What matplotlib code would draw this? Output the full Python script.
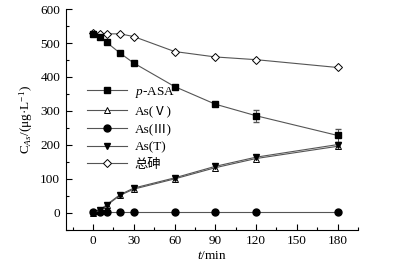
import matplotlib
matplotlib.use("Agg")
import matplotlib.pyplot as plt
from matplotlib.ticker import MultipleLocator

t = [0, 5, 10, 20, 30, 60, 90, 120, 180]
p_asa = [528, 518, 502, 470, 441, 372, 320, 286, 228]
p_asa_err = [0, 0, 0, 0, 0, 5, 6, 18, 20]
as_v = [0, 6, 22, 52, 70, 100, 133, 160, 196]
as_iii = [2, 2, 2, 2, 2, 2, 2, 2, 2]
as_t = [0, 8, 24, 54, 73, 103, 137, 164, 201]
total = [529, 527, 527, 527, 519, 475, 459, 451, 428]

labels = ["$p$-ASA", "As(Ⅴ)", "As(Ⅲ)", "As(T)", "总砷"]

fam = ["Liberation Serif", "Noto Sans CJK SC", "DejaVu Sans"]
plt.rcParams["font.family"] = fam
plt.rcParams["mathtext.fontset"] = "custom"
plt.rcParams["mathtext.rm"] = "Liberation Serif"
plt.rcParams["mathtext.it"] = "Liberation Serif:italic"

fig = plt.figure(figsize=(3.99, 2.74), dpi=100)
ax = fig.add_axes([0.165, 0.161, 0.732, 0.806])

fs = 9.5
lc = "#555555"
lw = 0.8
ms = 5
h0 = ax.errorbar(t, p_asa, yerr=p_asa_err, color=lc, lw=lw, marker="s", ms=ms,
                 mfc="black", mec="black", ecolor=lc, elinewidth=0.7, capsize=2,
                 zorder=3)
h1, = ax.plot(t, as_v, color=lc, lw=lw, marker="^", ms=ms, mfc="white", mec="black",
              mew=0.7, zorder=3)
h2, = ax.plot(t, as_iii, color=lc, lw=lw, marker="o", ms=ms, mfc="black", mec="black",
              zorder=3)
h3, = ax.plot(t, as_t, color=lc, lw=lw, marker="v", ms=ms, mfc="black", mec="black",
              zorder=3)
h4, = ax.plot(t, total, color=lc, lw=lw, marker="D", ms=ms - 0.5, mfc="white", mec="black",
              mew=0.7, zorder=3)
h0_line = h0.lines[0]

ax.set_xlim(-20, 195)
ax.set_ylim(-50, 600)
ax.xaxis.set_major_locator(MultipleLocator(30))
ax.xaxis.set_minor_locator(MultipleLocator(15))
ax.yaxis.set_major_locator(MultipleLocator(100))
ax.yaxis.set_minor_locator(MultipleLocator(50))
ax.tick_params(which="both", direction="in", labelsize=fs, width=0.8)
ax.tick_params(which="major", length=4, pad=4)
ax.tick_params(which="minor", length=2.5)
for s in ["top", "right"]:
    ax.spines[s].set_visible(False)
for s in ["left", "bottom"]:
    ax.spines[s].set_linewidth(0.8)

ax.set_xlabel("$t$/min", fontsize=fs, labelpad=2)
ax.set_ylabel("C$_{As}$/(μg·L$^{-1}$)", fontsize=fs, labelpad=4)

leg = ax.legend([h0_line, h1, h2, h3, h4], labels, loc="upper left",
                bbox_to_anchor=(0.055, 0.68), frameon=False,
                fontsize=fs, handlelength=3.0, handletextpad=0.6,
                labelspacing=0.42, borderaxespad=0.0)

fig.savefig("out.png", dpi=100)
